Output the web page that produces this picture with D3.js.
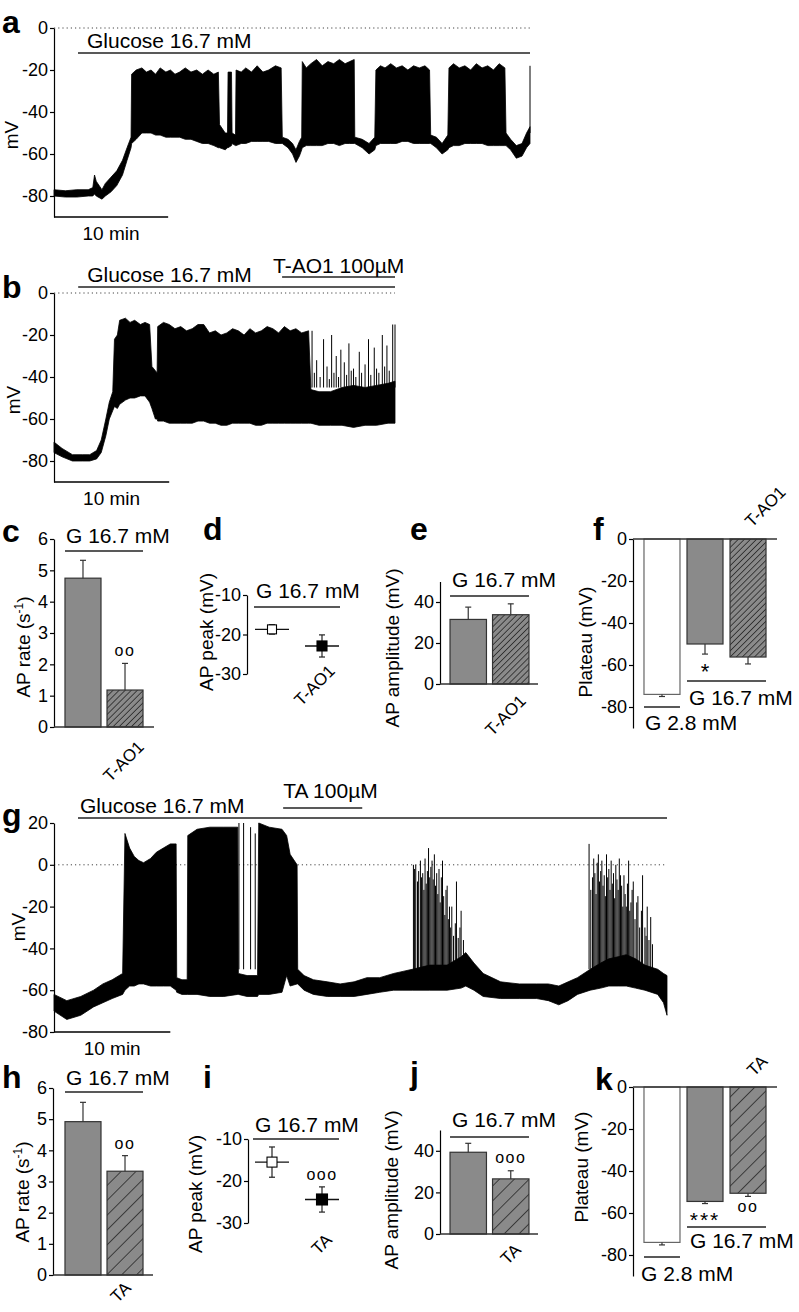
<!DOCTYPE html>
<html>
<head>
<meta charset="utf-8">
<script src="https://cdn.jsdelivr.net/npm/d3@7"></script>
<style>
  body { margin: 0; background: #fff; }
</style>
</head>
<body>
<div id="chart"></div>
<script>
//traces: [minutes, lower edge mV, upper edge mV]
const traceA = [
  [0, -80, -77], [1, -80.5, -77.5], [2, -80.5, -77], [3, -80, -77], [3.4, -80, -76],
  [3.55, -79, -70], [3.7, -80, -73], [4.2, -81.5, -77], [4.5, -80, -74], [5.0, -78, -71],
  [5.5, -75, -68], [6.0, -70, -63], [6.4, -63, -57], [6.75, -57, -52], [6.8, -55, -22],
  [7.2, -53, -20], [7.7, -50, -19], [8.1, -50, -21], [8.5, -50, -20], [8.9, -51, -22],
  [9.3, -51, -19], [9.8, -52, -21], [10.2, -52, -20], [10.6, -52, -22], [11.0, -52, -21],
  [11.5, -53, -19], [12.0, -53, -21], [12.5, -54, -20], [13.0, -55, -22], [13.5, -55, -20],
  [14.0, -56, -22], [14.4, -57, -21],
  [14.5, -57, -46], [15.0, -58, -50], [15.2, -57, -50], [15.25, -57, -21], [15.55, -56, -21],
  [15.6, -55, -50], [15.9, -56, -51], [15.95, -56, -20], [16.4, -55, -21], [16.8, -55, -19],
  [17.3, -54, -21], [17.8, -54, -18], [18.3, -54, -21], [18.8, -54, -20], [19.4, -55, -18],
  [19.9, -55, -19], [20.0, -55, -52], [20.5, -57, -53], [20.9, -60, -55],
  [21.2, -64, -58], [21.5, -61, -54], [21.7, -58, -52], [21.75, -57, -16], [22.1, -56, -19],
  [22.5, -56, -17], [23.0, -56, -15], [23.5, -56, -18], [24.0, -55, -16], [24.5, -55, -17],
  [25.0, -56, -15], [25.5, -55, -17], [25.9, -55, -16], [26.3, -55, -15], [26.35, -55, -52],
  [27.0, -57, -53], [27.6, -60, -55], [28.1, -58, -52], [28.2, -56, -20], [28.6, -55, -18],
  [29.0, -55, -19], [29.5, -55, -17], [30.0, -55, -19], [30.5, -54, -18], [31.0, -54, -20],
  [31.5, -55, -18], [32.0, -55, -19], [32.5, -55, -18], [32.9, -55, -20], [33.0, -55, -51],
  [33.5, -57, -52], [34.0, -60, -55], [34.5, -58, -51], [34.6, -57, -19], [35.0, -56, -17],
  [35.5, -56, -19], [36.0, -55, -18], [36.5, -55, -20], [37.0, -55, -17], [37.5, -55, -19],
  [38.0, -56, -18], [38.5, -56, -20], [39.0, -56, -17], [39.5, -56, -19], [39.6, -56, -50],
  [40.0, -58, -53], [40.5, -62, -56], [41.0, -61, -55], [41.4, -57, -50], [41.7, -55, -47]
];
const spikesA = [[41.7, -18]];

const traceB = [
  [0, -76, -71], [0.7, -78, -74], [1.6, -80, -77], [2.5, -80, -77], [3.1, -80, -77],
  [3.7, -79, -75], [4.1, -76, -70], [4.5, -68, -60], [4.8, -60, -52], [5.1, -56, -47],
  [5.25, -54, -22], [5.5, -55, -20], [5.7, -53, -13], [6.2, -51, -12], [6.6, -50, -14],
  [7.0, -50, -13], [7.5, -49, -15], [7.9, -49, -14], [8.3, -52, -15], [8.5, -55, -35],
  [8.8, -60, -37], [8.95, -60, -38], [9.0, -61, -16], [9.5, -61, -14], [10.0, -62, -15],
  [10.5, -62, -17], [11.0, -62, -16], [11.5, -62, -18], [12.0, -62, -17], [12.5, -61, -15],
  [13.0, -61, -15], [13.5, -62, -19], [14.0, -62, -18], [14.5, -63, -20], [15.0, -63, -19],
  [15.5, -62, -17], [16.0, -62, -18], [16.5, -62, -20], [17.0, -62, -17], [17.5, -63, -19],
  [18.0, -63, -18], [18.5, -62, -16], [19.0, -62, -17], [19.5, -62, -19], [20.0, -62, -16],
  [20.5, -62, -18], [21.0, -62, -17], [21.5, -62, -19], [22.1, -62, -18], [22.3, -62, -46],
  [23.0, -63, -47], [24.0, -63, -47], [25.0, -63, -45], [26.0, -64, -44], [27.0, -63, -45],
  [28.0, -63, -44], [29.0, -62, -43], [29.6, -62, -42]
];
const spikesB = [
  [22.4, -18], [22.6, -38], [22.8, -32], [23.1, -40], [23.4, -22], [23.7, -35], [23.9, -41],
  [24.1, -20], [24.3, -38], [24.5, -30], [24.7, -40], [24.9, -27], [25.2, -33], [25.4, -39],
  [25.6, -24], [25.8, -37], [26.0, -36], [26.2, -40], [26.5, -28], [26.7, -38], [27.0, -34],
  [27.3, -22], [27.5, -39], [27.8, -26], [28.0, -36], [28.2, -38], [28.5, -20], [28.7, -35],
  [28.9, -25], [29.1, -37], [29.4, -15], [29.6, -15]
];

const traceG = [
  [0, -70, -62], [1.1, -74, -65], [2.3, -72, -63], [3.4, -68, -60], [4.2, -66, -57],
  [5.0, -64, -55], [5.9, -62, -52], [6.1, -60, 15], [6.5, -58, 8], [6.9, -58, 4],
  [7.3, -57, 2], [7.7, -57, 1], [8.3, -58, 3], [8.8, -58, 6], [9.4, -58, 8], [10.0, -58, 10],
  [10.5, -60, 10], [10.55, -61, -54], [11.0, -62, -55], [11.45, -62, -55], [11.5, -62, 14],
  [12.3, -62, 17], [13.4, -63, 18], [14.6, -63, 18], [15.8, -62, 18], [15.85, -62, -52],
  [16.6, -63, -53], [17.5, -63, -53], [17.6, -62, 20], [18.5, -62, 18], [19.6, -61, 17],
  [20.0, -53, 14], [20.3, -58, 5], [20.9, -57, 0], [20.95, -57, -50], [21.5, -60, -53],
  [22.3, -62, -55], [23.5, -63, -56], [24.6, -63, -57], [25.8, -63, -56], [26.9, -62, -54],
  [28.0, -61, -54], [29.2, -60, -52], [30.0, -60, -51], [30.8, -60, -50], [32.3, -60, -48],
  [33.8, -60, -48], [35.0, -59, -44], [35.4, -58, -42], [36.1, -60, -47], [36.9, -63, -52],
  [38.4, -64, -56], [40.0, -64, -57], [41.5, -64, -57], [42.5, -65, -57], [43.4, -67, -58],
  [44.2, -65, -56], [45.0, -62, -54], [46.1, -60, -50], [47.0, -59, -47], [47.7, -58, -45],
  [48.5, -58, -44], [49.2, -58, -43], [50.0, -59, -45], [50.8, -60, -48], [51.9, -62, -50],
  [52.4, -66, -52], [52.7, -72, -53]
];
const spikesG = [
  [15.9, 20], [16.3, 20], [16.9, 18], [17.3, 15],
  [30.9, 0], [31.0, -2], [31.1, 0], [31.25, -8], [31.35, -3], [31.5, 2], [31.6, -6],
  [31.7, -4], [31.8, -12], [31.9, 3], [32.0, -9], [32.1, -3], [32.2, 8], [32.3, -6],
  [32.4, -1], [32.5, 2], [32.6, -7], [32.7, 5], [32.8, -10], [32.9, -4], [33.0, -14],
  [33.1, -2], [33.2, -18], [33.3, -6], [33.4, 2], [33.5, -15], [33.6, -24], [33.7, -12],
  [33.8, -10], [33.9, -26], [34.0, -20], [34.1, -30], [34.2, -20], [34.35, -34], [34.5, -28],
  [34.6, -8], [34.75, -35], [34.9, -30], [35.0, -22], [35.2, -36],
  [46.0, 10], [46.15, -12], [46.3, -6], [46.4, 3], [46.5, -4], [46.6, -14], [46.7, 1],
  [46.8, 5], [46.9, -8], [47.0, -3], [47.1, 2], [47.2, -10], [47.3, -5], [47.4, -15],
  [47.5, 5], [47.6, -6], [47.7, -2], [47.8, -12], [47.9, 2], [48.0, -9], [48.1, -4],
  [48.2, -16], [48.3, 0], [48.4, -7], [48.5, -12], [48.6, 3], [48.7, -5], [48.8, -10],
  [48.9, -20], [49.0, -5], [49.1, -14], [49.2, -20], [49.3, -9], [49.4, 2], [49.5, -22],
  [49.6, -18], [49.7, -12], [49.8, -8], [49.95, -26], [50.1, -18], [50.2, -15], [50.35, -30],
  [50.5, -22], [50.6, -5], [50.8, -30], [50.9, -34], [51.0, -20], [51.15, -36], [51.3, -25],
  [51.45, -38]
];

//drug applications: [label, start min, end min]
const drugsA = [["Glucose 16.7 mM", 2.1, 41.7]];
const drugsB = [["Glucose 16.7 mM", 2.1, 29.6], ["T-AO1 100µM", 19.8, 29.6]];
const drugsG = [["Glucose 16.7 mM", 2.06, 52.7], ["TA 100µM", 19.7, 26.5]];

//tick labels
const traceTicks = [0, -20, -40, -60, -80];
const traceTicksG = [20, 0, -20, -40, -60, -80];
const rateTicks = [0, 1, 2, 3, 4, 5, 6];
const peakTicks = [-10, -20, -30];
const ampTicks = [0, 20, 40];
const plateauTicks = [0, -20, -40, -60, -80];

//summary groups
const pairTAO = ["G 16.7 mM", "T-AO1"];
const pairTA = ["G 16.7 mM", "TA"];
const plateauTAO = ["G 2.8 mM", "G 16.7 mM", "T-AO1"];
const plateauTA = ["G 2.8 mM", "G 16.7 mM", "TA"];

//summary values (mean, s.e.m.)
const rateTAO = [4.75, 1.18];
const rateTAOErr = [0.57, 0.85];
const peakTAO = [-18.7, -22.9];
const peakTAOErr = [1.2, 2.8];
const ampTAO = [31.5, 33.8];
const ampTAOErr = [6.0, 5.3];
const plateauValsTAO = [-74, -50, -56.2];
const plateauErrTAO = [1.0, 4.8, 3.3];

const rateTA = [4.92, 3.33];
const rateTAErr = [0.62, 0.5];
const peakTA = [-15.5, -24.4];
const peakTAErr = [3.6, 3.0];
const ampTA = [39.3, 26.5];
const ampTAErr = [4.3, 3.9];
const plateauValsTA = [-74, -54.5, -50.6];
const plateauErrTA = [1.2, 1.0, 1.5];

//style
const FONT = '"Liberation Sans", Arial, Helvetica, sans-serif';
const GRAY = "#8a8a8a";

const svg = d3
  .select("#chart")
  .append("svg")
  .attr("width", 799)
  .attr("height", 1312)
  .attr("font-family", FONT);

const defs = svg.append("defs");

//hatch pattern for drug bars
function hatch(id, step) {
  const p = defs
    .append("pattern")
    .attr("id", id)
    .attr("patternUnits", "userSpaceOnUse")
    .attr("width", step)
    .attr("height", step)
    .attr("patternTransform", "rotate(45)");
  p.append("rect").attr("width", step).attr("height", step).attr("fill", GRAY);
  p.append("line")
    .attr("x1", 0).attr("y1", 0).attr("x2", 0).attr("y2", step)
    .attr("stroke", "#111").attr("stroke-width", 1.3);
}
hatch("hatchDense", 4.3);
hatch("hatchWide", 10.5);

function text(x, y, str, size, opts = {}) {
  const t = svg
    .append("text")
    .attr("x", x)
    .attr("y", y)
    .attr("font-size", size)
    .attr("fill", "#000")
    .text(str);
  if (opts.anchor) t.attr("text-anchor", opts.anchor);
  if (opts.bold) t.attr("font-weight", "bold");
  if (opts.rotate != null) {
    t.attr("x", null).attr("y", null)
      .attr("transform", `translate(${x},${y}) rotate(${opts.rotate})`);
  }
  if (opts.spacing) t.attr("letter-spacing", opts.spacing);
  return t;
}

function hline(x1, x2, y, color = "#222", w = 1.3) {
  svg.append("line")
    .attr("x1", x1).attr("x2", x2).attr("y1", y).attr("y2", y)
    .attr("stroke", color).attr("stroke-width", w);
}

function yAxis(x, scale, ticks) {
  const ax = svg
    .append("g")
    .attr("transform", `translate(${x},0)`)
    .call(
      d3.axisLeft(scale)
        .tickValues(ticks)
        .tickFormat((d) => String(d)) //plain hyphen minus
        .tickSize(4)
        .tickSizeOuter(0)
        .tickPadding(2)
    );
  ax.attr("font-family", FONT).attr("font-size", 18);
  ax.select(".domain").attr("stroke", "#000").attr("stroke-width", 1.2);
  ax.selectAll(".tick line").attr("stroke", "#000").attr("stroke-width", 1.2);
  ax.selectAll(".tick text").attr("fill", "#000");
  return ax;
}

//voltage trace panel
function tracePanel(cfg) {
  const x = d3.scaleLinear().domain(cfg.xDomain).range(cfg.xRange);
  const y = d3.scaleLinear().domain(cfg.yDomain).range(cfg.yRange);

  //dotted 0 mV line
  svg.append("line")
    .attr("x1", x(0)).attr("x2", x(cfg.xDomain[1]))
    .attr("y1", y(0)).attr("y2", y(0))
    .attr("stroke", "#444").attr("stroke-width", 1)
    .attr("stroke-dasharray", "1.2,3");

  //trace envelope
  const area = d3.area()
    .x((d) => x(d[0]))
    .y0((d) => y(d[1]))
    .y1((d) => y(d[2]));
  svg.append("path")
    .datum(cfg.trace)
    .attr("d", area)
    .attr("fill", "#000")
    .attr("stroke", "#000")
    .attr("stroke-width", 0.8)
    .attr("stroke-linejoin", "round");

  //single spikes
  svg.append("g")
    .selectAll("line")
    .data(cfg.spikes)
    .join("line")
    .attr("x1", (d) => x(d[0])).attr("x2", (d) => x(d[0]))
    .attr("y1", y(cfg.spikeBase)).attr("y2", (d) => y(d[1]))
    .attr("stroke", "#000").attr("stroke-width", 1);

  yAxis(x(0), y, cfg.ticks);

  //scale bar
  hline(x(0), x(10), y(cfg.yDomain[0]), "#000", 1.5);
  text(x(5), y(cfg.yDomain[0]) + 23, "10 min", 19, { anchor: "middle" });

  //drug bars
  cfg.drugs.forEach((d, i) => {
    const by = cfg.drugY[i];
    hline(x(d[1]), x(d[2]), by, "#222", 1.4);
    text(x(d[1]) + cfg.labelDx[i], by + cfg.labelDy[i], d[0], 21);
  });

  text(cfg.mvPos[0], cfg.mvPos[1], "mV", 19, { anchor: "middle", rotate: -90 });
  text(cfg.letterPos[0], cfg.letterPos[1], cfg.letter, 32, { bold: true });
}

//bar panel
function barPanel(cfg) {
  const y = d3.scaleLinear().domain(cfg.yDomain).range(cfg.yRange);
  const x = d3.scaleBand()
    .domain(cfg.groups)
    .range(cfg.xRange)
    .paddingInner(cfg.padIn)
    .paddingOuter(cfg.padOut);
  const bw = x.bandwidth();

  const bars = svg.append("g");
  bars.selectAll("rect")
    .data(cfg.values)
    .join("rect")
    .attr("x", (d, i) => x(cfg.groups[i]))
    .attr("width", bw)
    .attr("y", (d) => Math.min(y(0), y(d)))
    .attr("height", (d) => Math.abs(y(d) - y(0)))
    .attr("fill", (d, i) => cfg.fills[i])
    .attr("stroke", (d, i) => (cfg.fills[i] === "#fff" ? "#666" : "#333"))
    .attr("stroke-width", 1.2);

  //error bars
  cfg.values.forEach((v, i) => {
    const cx = x(cfg.groups[i]) + bw / 2;
    const end = v + Math.sign(v) * cfg.errs[i];
    svg.append("line")
      .attr("x1", cx).attr("x2", cx).attr("y1", y(v)).attr("y2", y(end))
      .attr("stroke", "#333").attr("stroke-width", 1.2);
    hline(cx - 3, cx + 3, y(end), "#333", 1.2);
  });

  yAxis(cfg.axisX, y, cfg.ticks);
  hline(cfg.axisX, cfg.baseEnd, y(0), "#333", 1.3);

  return { x, y, bw };
}

//mean +/- sem points panel
function pointPanel(cfg) {
  const y = d3.scaleLinear().domain(cfg.yDomain).range(cfg.yRange);
  const x = d3.scalePoint().domain(cfg.groups).range(cfg.xRange);
  cfg.values.forEach((v, i) => {
    const cx = x(cfg.groups[i]);
    svg.append("line")
      .attr("x1", cx).attr("x2", cx)
      .attr("y1", y(v - cfg.errs[i])).attr("y2", y(v + cfg.errs[i]))
      .attr("stroke", "#222").attr("stroke-width", 1.2);
    hline(cx - 3, cx + 3, y(v - cfg.errs[i]), "#222", 1.2);
    hline(cx - 3, cx + 3, y(v + cfg.errs[i]), "#222", 1.2);
    hline(cx - 17, cx + 17, y(v), "#111", 1.4);
    const s = cfg.sizes[i];
    svg.append("rect")
      .attr("x", cx - s / 2).attr("y", y(v) - s / 2)
      .attr("width", s).attr("height", s)
      .attr("fill", i === 0 ? "#fff" : "#000")
      .attr("stroke", "#000").attr("stroke-width", 1.1);
  });
  yAxis(cfg.axisX, y, cfg.ticks);
  return { x, y };
}

// ---------- panel a ----------
tracePanel({
  letter: "a", letterPos: [2, 33],
  trace: traceA, spikes: spikesA, spikeBase: -50,
  xDomain: [0, 41.7], xRange: [54, 530],
  yDomain: [-90, 0], yRange: [217, 28],
  ticks: traceTicks,
  drugs: drugsA, drugY: [53], labelDx: [9], labelDy: [-5],
  mvPos: [18, 135],
});

// ---------- panel b ----------
tracePanel({
  letter: "b", letterPos: [2, 298],
  trace: traceB, spikes: spikesB, spikeBase: -45,
  xDomain: [0, 29.6], xRange: [54, 395],
  yDomain: [-90, 0], yRange: [482, 293],
  ticks: traceTicks,
  drugs: drugsB, drugY: [287, 277], labelDx: [9, -9], labelDy: [-5, -4],
  mvPos: [20, 400],
});

// ---------- panel g ----------
tracePanel({
  letter: "g", letterPos: [2, 826],
  trace: traceG, spikes: spikesG, spikeBase: -50,
  xDomain: [0, 52.7], xRange: [54, 667],
  yDomain: [-80, 20], yRange: [1032, 823],
  ticks: traceTicksG,
  drugs: drugsG, drugY: [818, 808], labelDx: [2, 0], labelDy: [-5, -10],
  mvPos: [25, 927],
});

// ---------- panel c ----------
{
  const p = barPanel({
    groups: pairTAO, values: rateTAO, errs: rateTAOErr,
    fills: [GRAY, "url(#hatchDense)"],
    yDomain: [0, 6], yRange: [727, 539], ticks: rateTicks,
    xRange: [62, 146], padIn: 0.143, padOut: 0.071,
    axisX: 54, baseEnd: 154,
  });
  const b1 = p.x(pairTAO[0]), b2 = p.x(pairTAO[1]);
  hline(b1, b2 + p.bw, 551);
  text(b1 + 1, 543, "G 16.7 mM", 21);
  text(b2 + p.bw / 2, p.y(rateTAO[1] + rateTAOErr[1]) - 7, "oo", 16, { anchor: "middle", spacing: 1.5 });
  text(145, 748, "T-AO1", 17, { anchor: "end", rotate: -45 });
  const yl = text(30, 647, "AP rate (s", 19, { anchor: "middle", rotate: -90 });
  yl.append("tspan").attr("font-size", 12).attr("dy", -7).text("-1");
  yl.append("tspan").attr("dy", 7).text(")");
  text(2, 542, "c", 32, { bold: true });
}

// ---------- panel d ----------
{
  const p = pointPanel({
    groups: pairTAO, values: peakTAO, errs: peakTAOErr, sizes: [9, 10],
    yDomain: [-30, -10], yRange: [674, 595], ticks: peakTicks,
    xRange: [272, 322], axisX: 247,
  });
  hline(254, 340, 607);
  text(256, 598, "G 16.7 mM", 21);
  text(336, 672, "T-AO1", 17, { anchor: "end", rotate: -45 });
  text(213, 632, "AP peak (mV)", 19, { anchor: "middle", rotate: -90 });
  text(203, 540, "d", 32, { bold: true });
}

// ---------- panel e ----------
{
  const p = barPanel({
    groups: pairTAO, values: ampTAO, errs: ampTAOErr,
    fills: [GRAY, "url(#hatchDense)"],
    yDomain: [0, 50], yRange: [684, 581.5], ticks: ampTicks,
    xRange: [447, 532], padIn: 0.143, padOut: 0.071,
    axisX: 440, baseEnd: 538,
  });
  const b1 = p.x(pairTAO[0]), b2 = p.x(pairTAO[1]);
  hline(b1, b2 + p.bw, 596);
  text(b1 + 2, 587, "G 16.7 mM", 21);
  text(527, 702, "T-AO1", 17, { anchor: "end", rotate: -45 });
  text(399, 648, "AP amplitude (mV)", 19, { anchor: "middle", rotate: -90 });
  text(410, 540, "e", 32, { bold: true });
}

// ---------- panel f ----------
{
  const p = barPanel({
    groups: plateauTAO, values: plateauValsTAO, errs: plateauErrTAO,
    fills: ["#fff", GRAY, "url(#hatchDense)"],
    yDomain: [-90, 0], yRange: [728, 539], ticks: plateauTicks,
    xRange: [640.5, 769.5], padIn: 0.163, padOut: 0.081,
    axisX: 633, baseEnd: 777,
  });
  const b1 = p.x(plateauTAO[0]), b2 = p.x(plateauTAO[1]), b3 = p.x(plateauTAO[2]);
  hline(b2, b3 + p.bw, 681);
  text(b2 + 2, 705, "G 16.7 mM", 21);
  hline(b1, b1 + p.bw, 707);
  text(b1 + 1, 730, "G 2.8 mM", 21);
  text(b2 + p.bw / 2, 679, "*", 22, { anchor: "middle" });
  text(752, 528, "T-AO1", 17, { rotate: -45 });
  text(592, 642, "Plateau (mV)", 19, { anchor: "middle", rotate: -90 });
  text(593, 540, "f", 32, { bold: true });
}

// ---------- panel h ----------
{
  const p = barPanel({
    groups: pairTA, values: rateTA, errs: rateTAErr,
    fills: [GRAY, "url(#hatchWide)"],
    yDomain: [0, 6], yRange: [1275, 1088], ticks: rateTicks,
    xRange: [62, 146], padIn: 0.143, padOut: 0.071,
    axisX: 53, baseEnd: 153,
  });
  const b1 = p.x(pairTA[0]), b2 = p.x(pairTA[1]);
  hline(b1, b2 + p.bw, 1092);
  text(b1 + 1, 1085, "G 16.7 mM", 21);
  text(b2 + p.bw / 2, p.y(rateTA[1] + rateTAErr[1]) - 7, "oo", 16, { anchor: "middle", spacing: 1.5 });
  text(132, 1289, "TA", 17, { anchor: "end", rotate: -45 });
  const yl = text(29, 1192, "AP rate (s", 19, { anchor: "middle", rotate: -90 });
  yl.append("tspan").attr("font-size", 12).attr("dy", -7).text("-1");
  yl.append("tspan").attr("dy", 7).text(")");
  text(2, 1088, "h", 32, { bold: true });
}

// ---------- panel i ----------
{
  const p = pointPanel({
    groups: pairTA, values: peakTA, errs: peakTAErr, sizes: [10, 11],
    yDomain: [-30, -10], yRange: [1223, 1139], ticks: peakTicks,
    xRange: [272, 322], axisX: 248,
  });
  hline(253, 339, 1139);
  text(255, 1132, "G 16.7 mM", 21);
  text(322, p.y(peakTA[1] + peakTAErr[1]) - 7, "ooo", 16, { anchor: "middle", spacing: 1.5 });
  text(333, 1241, "TA", 17, { anchor: "end", rotate: -45 });
  text(202, 1194, "AP peak (mV)", 19, { anchor: "middle", rotate: -90 });
  text(203, 1088, "i", 32, { bold: true });
}

// ---------- panel j ----------
{
  const p = barPanel({
    groups: pairTA, values: ampTA, errs: ampTAErr,
    fills: [GRAY, "url(#hatchWide)"],
    yDomain: [0, 50], yRange: [1234, 1130], ticks: ampTicks,
    xRange: [447, 532], padIn: 0.143, padOut: 0.071,
    axisX: 440, baseEnd: 538,
  });
  const b1 = p.x(pairTA[0]), b2 = p.x(pairTA[1]);
  hline(b1, b2 + p.bw, 1137);
  text(b1 + 2, 1127, "G 16.7 mM", 21);
  text(b2 + p.bw / 2, p.y(ampTA[1] + ampTAErr[1]) - 8, "ooo", 16, { anchor: "middle", spacing: 1.5 });
  text(522, 1251, "TA", 17, { anchor: "end", rotate: -45 });
  text(398, 1190, "AP amplitude (mV)", 19, { anchor: "middle", rotate: -90 });
  text(410, 1084, "j", 32, { bold: true });
}

// ---------- panel k ----------
{
  const p = barPanel({
    groups: plateauTA, values: plateauValsTA, errs: plateauErrTA,
    fills: ["#fff", GRAY, "url(#hatchWide)"],
    yDomain: [-90, 0], yRange: [1276, 1087], ticks: plateauTicks,
    xRange: [640.5, 769.5], padIn: 0.163, padOut: 0.081,
    axisX: 633, baseEnd: 777,
  });
  const b1 = p.x(plateauTA[0]), b2 = p.x(plateauTA[1]), b3 = p.x(plateauTA[2]);
  hline(b2, b3 + p.bw, 1227);
  text(b2 + 3, 1248, "G 16.7 mM", 21);
  hline(b1, b1 + p.bw, 1257);
  text(b1 - 3, 1281, "G 2.8 mM", 21);
  text(b2 + p.bw / 2, 1227, "***", 21, { anchor: "middle", spacing: 2 });
  text(b3 + p.bw / 2, 1212, "oo", 16, { anchor: "middle", spacing: 1.5 });
  text(754, 1077, "TA", 17, { rotate: -45 });
  text(588, 1167, "Plateau (mV)", 19, { anchor: "middle", rotate: -90 });
  text(595, 1090, "k", 32, { bold: true });
}
</script>
</body>
</html>
